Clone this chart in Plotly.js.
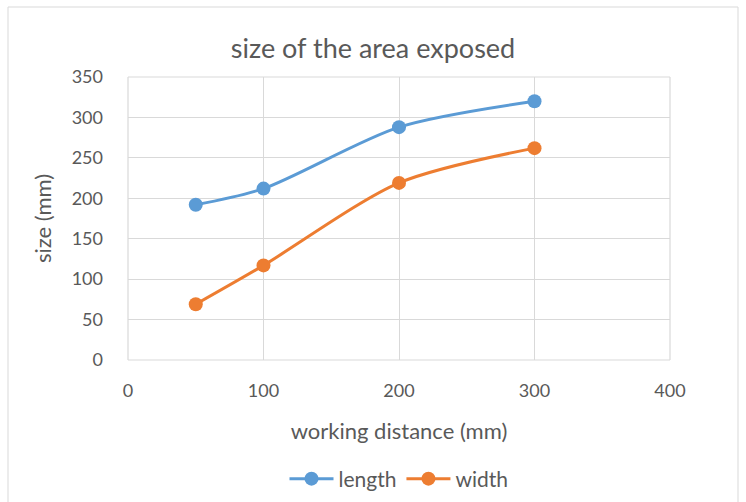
<!DOCTYPE html>
<html><head><meta charset="utf-8">
<script src="https://cdn.plot.ly/plotly-3.0.1.min.js"></script>
<style>html,body{margin:0;padding:0;background:#fff}#c{width:746px;height:502px}</style>
</head><body><div id="c"></div>
<script>
const distance = [50, 100, 200, 300];
const lengthVals = [192, 212, 288, 320];
const widthVals = [69, 117, 219, 262];
const seriesNames = ['length', 'width'];
const FONT = 'Lato, "Open Sans", sans-serif';
const mk = (y, name, color) => ({
  x: distance, y: y, name: name, type: 'scatter', mode: 'lines+markers',
  line: {color: color, width: 3, shape: 'spline', smoothing: 0.8},
  marker: {color: color, size: 14}
});
const data = [mk(lengthVals, seriesNames[0], '#5B9BD5'), mk(widthVals, seriesNames[1], '#ED7D31')];
const L = 128, R = 670, T = 77, B = 360, W = 746, H = 502;
const pw = R - L, ph = B - T;
const layout = {
  width: W, height: H,
  margin: {l: L, r: W - R, t: T, b: H - B, autoexpand: false},
  paper_bgcolor: '#fff', plot_bgcolor: '#fff',
  font: {family: FONT, color: '#595959', size: 18},
  title: {text: 'size of the area exposed', font: {size: 27, color: '#595959', family: FONT}, x: 0.5, xanchor: 'center', y: 1 - 49 / H, yanchor: 'middle'},
  xaxis: {range: [0, 400], dtick: 100, tick0: 0, showgrid: true, gridcolor: '#D9D9D9', gridwidth: 1,
          zeroline: false, showline: false, ticks: '', fixedrange: true, ticklabelstandoff: 18, automargin: false,
          tickfont: {size: 18, color: '#595959'},
          title: {text: 'working distance (mm)', font: {size: 22, color: '#595959'}, standoff: 23}},
  yaxis: {range: [0, 350], dtick: 50, tick0: 0, showgrid: true, gridcolor: '#D9D9D9', gridwidth: 1,
          zeroline: false, showline: false, ticks: '', fixedrange: true, ticklabelstandoff: 24, automargin: false,
          tickfont: {size: 18, color: '#595959'},
          title: {text: 'size (mm)', font: {size: 22, color: '#595959'}, standoff: 13}},
  showlegend: true,
  legend: {orientation: 'h', x: 0.5, xanchor: 'center', y: -(479 - B) / ph, yanchor: 'middle',
           font: {size: 21, color: '#595959'}, itemwidth: 44, traceorder: 'normal'},
  shapes: [
    {type: 'line', xref: 'paper', yref: 'paper', x0: 0, x1: 0, y0: 0, y1: 1, line: {color: '#D9D9D9', width: 1.2}},
    {type: 'line', xref: 'paper', yref: 'paper', x0: 1, x1: 1, y0: 0, y1: 1, line: {color: '#D9D9D9', width: 1.2}},
    {type: 'line', xref: 'paper', yref: 'paper', x0: 0, x1: 1, y0: 0, y1: 0, line: {color: '#D9D9D9', width: 1.2}},
    {type: 'line', xref: 'paper', yref: 'paper', x0: 0, x1: 1, y0: 1, y1: 1, line: {color: '#D9D9D9', width: 1.2}},
    {type: 'rect', xref: 'paper', yref: 'paper', layer: 'below',
     x0: (8 - L) / pw, x1: (738 - L) / pw, y0: (B - 530) / ph, y1: (B - 7) / ph,
     line: {color: '#D9D9D9', width: 1}}
  ]
};
Plotly.newPlot('c', data, layout, {displayModeBar: false, staticPlot: true});
</script></body></html>
